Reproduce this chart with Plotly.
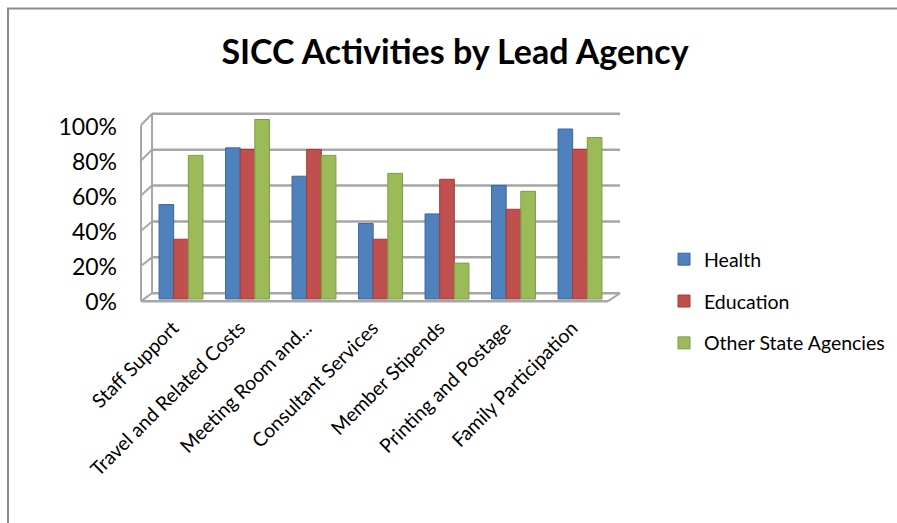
import plotly.graph_objects as go

# ---- data ----
categories = ["Staff Support", "Travel and Related Costs", "Meeting Room and...",
              "Consultant Services", "Member Stipends", "Printing and Postage",
              "Family Participation"]
health = [0.526, 0.842, 0.684, 0.421, 0.474, 0.632, 0.947]
education = [0.333, 0.833, 0.833, 0.333, 0.667, 0.500, 0.833]
other_state = [0.80, 1.00, 0.80, 0.70, 0.20, 0.60, 0.90]
series_names = ["Health", "Education", "Other State Agencies"]
series_colors = ["#4F81BD", "#C0504D", "#9BBB59"]
series_edges = ["#3A679E", "#A03C39", "#7F9C44"]
tick_vals = [0, 0.2, 0.4, 0.6, 0.8, 1.0]
tick_text = ["0%", "20%", "40%", "60%", "80%", "100%"]

W, H = 897, 523
FONT = "Lato"


def px(x):
    return x / W


def py(y):
    return 1 - y / H


# plot area (pixels)
X0, X1 = 147.75, 613.25
YB, YT = 305.0, 110.0
DH = YB - YT


def rng(zero_px, unit_px):
    a = (zero_px - YB) / unit_px
    return [a, a + DH / unit_px]


bar_range = rng(299.0, 179.5)
label_range = rng(302.0, 175.0)

fig = go.Figure()
for name, vals, col, edge in zip(series_names, [health, education, other_state],
                                 series_colors, series_edges):
    fig.add_trace(go.Bar(x=categories, y=vals, name=name, marker_color=col,
                         marker_line=dict(color=edge, width=1), legendgroup=name,
                         hovertemplate="%{x}<br>" + name + ": %{y:.0%}<extra></extra>"))

# empty helper trace so the label axis is drawn
fig.add_trace(go.Scatter(x=[], y=[], yaxis="y3", showlegend=False, hoverinfo="skip"))

# ---- 3D frame decoration (walls, gridlines, floor) ----
GRID = "#a6a6a6"
shapes = []


def back(v):   # back-wall level in bar-axis units
    return v + 0.032


def front(v):  # front-edge level in bar-axis units
    return v * 0.98 - 0.012


BX0, BX1 = px(152), px(620)
FX0, FX1 = px(141), px(608)
for v in tick_vals:
    shapes.append(dict(type="line", xref="paper", yref="y", x0=BX0, x1=BX1,
                       y0=back(v), y1=back(v), line=dict(color=GRID, width=2.5), layer="below"))
    shapes.append(dict(type="line", xref="paper", yref="y", x0=FX0, x1=BX0,
                       y0=front(v), y1=back(v), line=dict(color=GRID, width=2), layer="below"))
shapes.append(dict(type="line", xref="paper", yref="y", x0=FX0, x1=FX0,
                   y0=front(0), y1=front(1), line=dict(color=GRID, width=2), layer="below"))
shapes.append(dict(type="line", xref="paper", yref="y", x0=BX0, x1=BX0,
                   y0=back(0), y1=back(1), line=dict(color=GRID, width=2), layer="below"))
shapes.append(dict(type="line", xref="paper", yref="y", x0=FX0, x1=FX1,
                   y0=front(0), y1=front(0), line=dict(color=GRID, width=2.5), layer="below"))
shapes.append(dict(type="line", xref="paper", yref="y", x0=FX1, x1=BX1,
                   y0=front(0), y1=back(0), line=dict(color=GRID, width=2), layer="below"))
# chart border (left and top edges visible)
shapes.append(dict(type="rect", xref="paper", yref="paper", x0=px(8), x1=1.05,
                   y0=-0.05, y1=py(8.5), line=dict(color="#8c8c8c", width=2),
                   fillcolor="rgba(0,0,0,0)", layer="below"))

fig.update_layout(
    width=W, height=H,
    margin=dict(l=0, r=0, t=0, b=0, autoexpand=False),
    paper_bgcolor="white", plot_bgcolor="rgba(0,0,0,0)",
    font=dict(family=FONT, color="#000000"),
    title=dict(text="<b>SICC Activities by Lead Agency</b>", x=px(455), xanchor="center",
               y=py(52), yanchor="middle", yref="container",
               font=dict(family=FONT, size=34, color="#000000")),
    barmode="group", bargap=0.34, bargroupgap=0,
    xaxis=dict(domain=[px(X0), px(X1)], showgrid=False, showline=False, zeroline=False,
               ticks="", tickangle=-45, tickfont=dict(family=FONT, size=19.5),
               ticklabelstandoff=7, ticklabelshift=-8, fixedrange=True),
    yaxis=dict(domain=[py(YB), py(YT)], range=bar_range, showgrid=False,
               showticklabels=False, zeroline=False, showline=False, fixedrange=True),
    yaxis3=dict(overlaying="y", anchor="free", position=px(117), side="left",
                range=label_range, tickvals=tick_vals, ticktext=tick_text,
                showgrid=False, zeroline=False, showline=False, ticks="",
                tickfont=dict(family=FONT, size=23), fixedrange=True),
    legend=dict(x=px(664), y=py(240), xanchor="left", yanchor="top",
                traceorder="grouped", tracegroupgap=13.5,
                font=dict(family=FONT, size=19.5), bgcolor="rgba(0,0,0,0)"),
    shapes=shapes,
    showlegend=True,
)

fig.write_html("out.html", config={"displayModeBar": False},
               post_script="document.body.style.margin='0';")
